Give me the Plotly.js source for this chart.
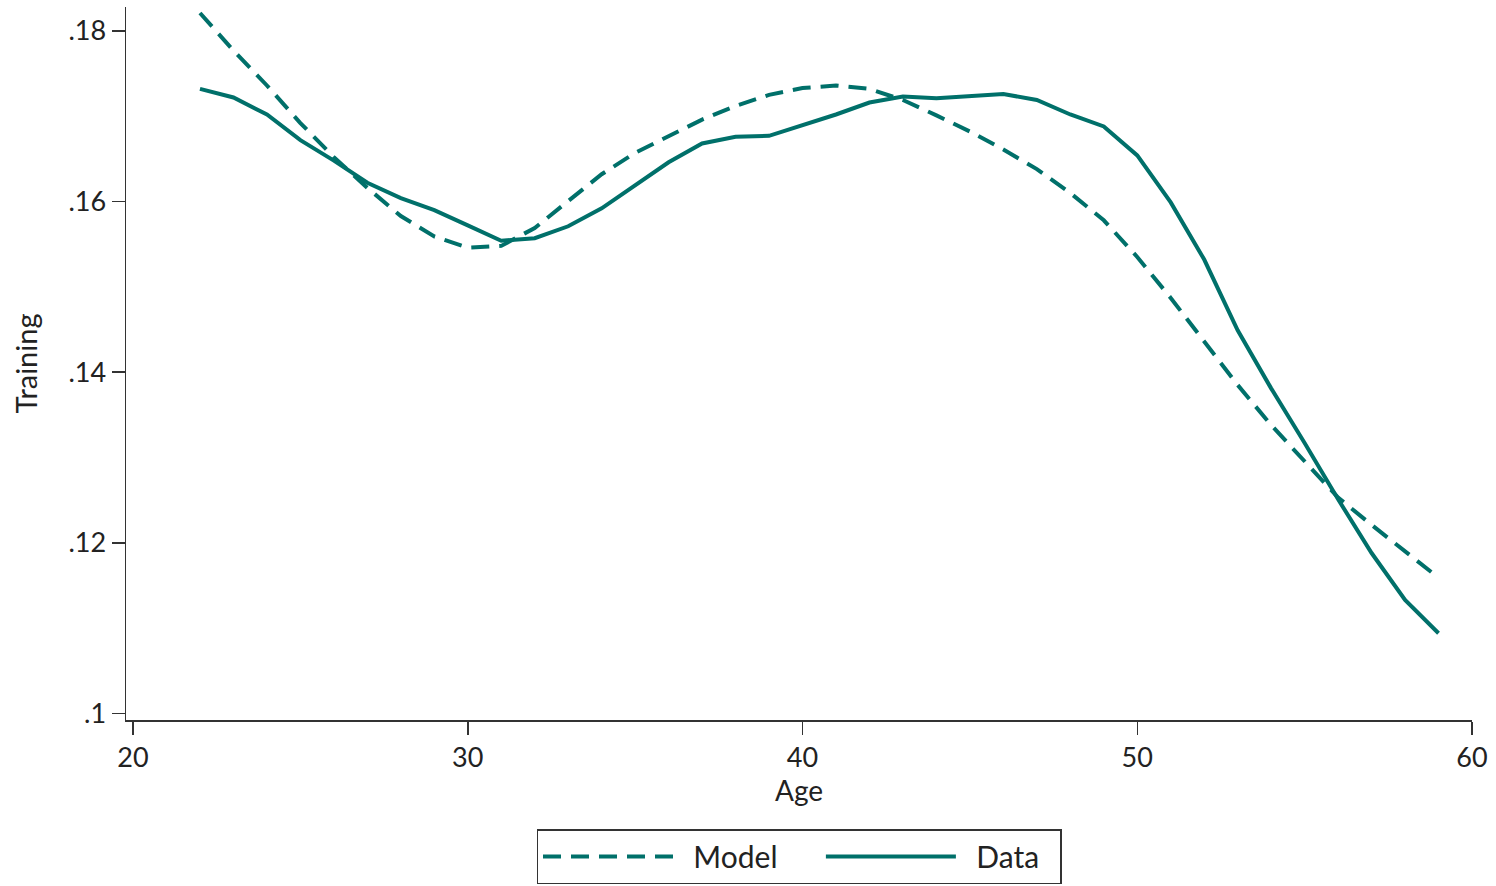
<!DOCTYPE html>
<html>
<head>
<meta charset="utf-8">
<script src="https://cdn.plot.ly/plotly-3.0.1.min.js"></script>
<style>
  html, body { margin: 0; padding: 0; background: #fff; }
  #chart { width: 1496px; height: 886px; }
</style>
</head>
<body>
<div id="chart"></div>
<script>
var ages = [22, 23, 24, 25, 26, 27, 28, 29, 30, 31, 32, 33, 34, 35, 36, 37, 38, 39, 40,
            41, 42, 43, 44, 45, 46, 47, 48, 49, 50, 51, 52, 53, 54, 55, 56, 57, 58, 59];

var model = [0.1821, 0.1777, 0.1736, 0.1692, 0.1652, 0.1616, 0.1583, 0.1559, 0.1546, 0.1548,
             0.1569, 0.1601, 0.1632, 0.1657, 0.1677, 0.1696, 0.1712, 0.1725, 0.1733,
             0.1736, 0.1732, 0.1719, 0.1701, 0.1682, 0.1661, 0.1638, 0.1610, 0.1578, 0.1535,
             0.1487, 0.1436, 0.1385, 0.1338, 0.1295, 0.1253, 0.1221, 0.1190, 0.1159];

var observed = [0.1732, 0.1722, 0.1702, 0.1672, 0.1648, 0.1622, 0.1604, 0.1590, 0.1572, 0.1554,
                0.1557, 0.1571, 0.1592, 0.1619, 0.1646, 0.1668, 0.1676, 0.1677, 0.1689,
                0.1702, 0.1716, 0.1723, 0.1721, 0.1723, 0.1726, 0.1719, 0.1702, 0.1688, 0.1654,
                0.1599, 0.1532, 0.1449, 0.1381, 0.1317, 0.1251, 0.1188, 0.1133, 0.1094];

var seriesNames = ['Model', 'Data'];

var xTicks = [20, 30, 40, 50, 60];
var yTicks = [0.10, 0.12, 0.14, 0.16, 0.18];
var yTickText = ['.1', '.12', '.14', '.16', '.18'];

var teal = '#00706a';
var axisColor = '#333333';
var font = 'Lato, "Open Sans", sans-serif';

// spacing inside the legend: gap after the line sample, and room after each label
function nb(n) { return new Array(n + 1).join('\u00a0'); }
var legendNames = [nb(2) + seriesNames[0] + nb(5), nb(2) + seriesNames[1] + nb(2)];

var data = [
  {
    type: 'scatter', mode: 'lines', name: legendNames[0],
    x: ages, y: model,
    line: { color: teal, width: 4, dash: '18px,10px' }
  },
  {
    type: 'scatter', mode: 'lines', name: legendNames[1],
    x: ages, y: observed,
    line: { color: teal, width: 4 }
  }
];

var layout = {
  width: 1496, height: 886,
  margin: { l: 126, r: 24, t: 7, b: 166, autoexpand: false },
  paper_bgcolor: '#fff', plot_bgcolor: '#fff',
  font: { family: font, size: 27, color: '#222' },
  showlegend: true,
  xaxis: {
    range: [19.79, 60.0],
    tickvals: xTicks,
    showline: true, linecolor: axisColor, linewidth: 1.5,
    ticks: 'outside', ticklen: 13, tickwidth: 1.5, tickcolor: axisColor,
    showgrid: false, zeroline: false,
    tickfont: { size: 27 },
    title: { text: 'Age', font: { size: 28 }, standoff: 8 }
  },
  yaxis: {
    range: [0.09923, 0.1828],
    tickvals: yTicks, ticktext: yTickText,
    showline: true, linecolor: axisColor, linewidth: 1.5,
    ticks: 'outside', ticklen: 13, tickwidth: 1.5, tickcolor: axisColor,
    showgrid: false, zeroline: false,
    tickfont: { size: 27 },
    title: { text: 'Training', font: { size: 29 }, standoff: 22 }
  },
  legend: {
    orientation: 'h',
    x: 0.5, xanchor: 'center',
    y: -0.153, yanchor: 'top',
    bordercolor: axisColor, borderwidth: 1.5,
    itemwidth: 130,
    font: { size: 30 },
    traceorder: 'normal'
  }
};

Plotly.newPlot('chart', data, layout, { displayModeBar: false, responsive: false, staticPlot: true });
</script>
</body>
</html>
